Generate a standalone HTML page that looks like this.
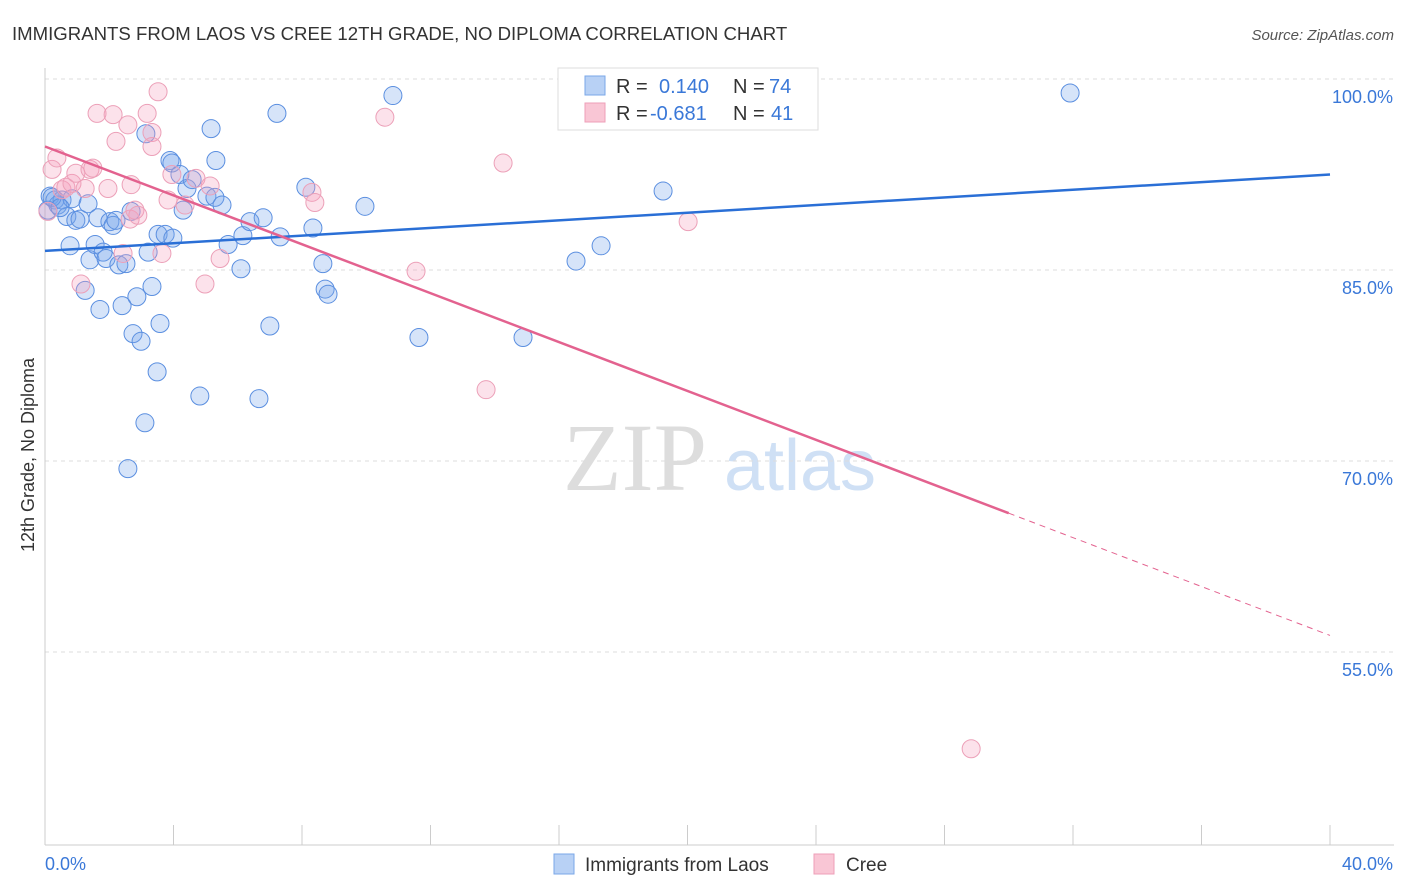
<!DOCTYPE html>
<html><head><meta charset="utf-8"><style>
body{margin:0;background:#fff;font-family:"Liberation Sans",sans-serif;}
svg{display:block}
</style></head><body>
<svg id="chart" width="1406" height="892" xmlns="http://www.w3.org/2000/svg">
<text x="12" y="40" font-size="18.6" fill="#333">IMMIGRANTS FROM LAOS VS CREE 12TH GRADE, NO DIPLOMA CORRELATION CHART</text>
<text x="1394" y="40" font-size="15" fill="#555" font-style="italic" text-anchor="end">Source: ZipAtlas.com</text>
<text transform="translate(34,455) rotate(-90)" font-size="18" fill="#333" text-anchor="middle">12th Grade, No Diploma</text>
<g>
<text x="635" y="490" font-size="96" font-family="Liberation Serif,serif" fill="#ddd" text-anchor="middle">ZIP</text>
<text x="800" y="490" font-size="72" fill="#cfe0f5" text-anchor="middle">atlas</text>
</g>
<g id="grid"></g><g id="axes"></g><g id="marks"></g>
<g>
<rect x="558" y="68" width="260" height="62" fill="#fff" stroke="#ddd"/>
<rect x="585" y="76" width="20" height="19" fill="#b8d1f5" stroke="#7aa7e8"/>
<rect x="585" y="103" width="20" height="19" fill="#f9c6d5" stroke="#ee9fb8"/>
<text x="616" y="93" font-size="20" fill="#333">R =</text><text x="659" y="93" font-size="20" fill="#3a78d8">0.140</text>
<text x="733" y="93" font-size="20" fill="#333">N =</text><text x="769" y="93" font-size="20" fill="#3a78d8">74</text>
<text x="616" y="120" font-size="20" fill="#333">R =</text><text x="650" y="120" font-size="20" fill="#3a78d8">-0.681</text>
<text x="733" y="120" font-size="20" fill="#333">N =</text><text x="771" y="120" font-size="20" fill="#3a78d8">41</text>
</g>
<g>
<rect x="554" y="854" width="20" height="20" fill="#b8d1f5" stroke="#7aa7e8"/>
<text x="585" y="871" font-size="19" fill="#333">Immigrants from Laos</text>
<rect x="814" y="854" width="20" height="20" fill="#f9c6d5" stroke="#ee9fb8"/>
<text x="846" y="871" font-size="19" fill="#333">Cree</text>
</g>
</svg>
<script>
const blueX=[0.16,0.31,0.40,0.53,0.68,0.78,0.84,0.96,1.09,1.25,1.34,1.40,1.56,1.65,1.71,1.81,1.90,2.02,2.12,2.21,2.30,2.40,2.52,2.58,2.68,2.74,2.86,2.99,3.11,3.14,3.21,3.33,3.49,3.52,3.58,3.74,3.89,3.95,3.98,4.20,4.30,4.42,4.58,4.82,5.04,5.17,5.32,5.29,5.51,5.70,6.10,6.16,6.38,6.66,6.79,7.00,7.22,7.32,8.12,8.34,8.65,8.72,8.81,9.96,10.83,11.64,14.88,16.53,17.31,19.24,31.91,0.09,0.22,0.47];
const blueY=[90.8,90.5,90.1,90.5,89.2,86.9,90.6,88.9,89.0,83.4,90.2,85.8,87.0,89.1,81.9,86.4,85.9,88.8,88.5,88.9,85.4,82.2,85.5,69.4,89.6,80.0,82.9,79.4,73.0,95.7,86.4,83.7,77.0,87.8,80.8,87.8,93.6,93.4,87.5,92.5,89.7,91.4,92.1,75.1,90.8,96.1,93.6,90.7,90.1,87.0,85.1,87.7,88.8,74.9,89.1,80.6,97.3,87.6,91.5,88.3,85.5,83.5,83.1,90.0,98.7,79.7,79.7,85.7,86.9,91.2,98.9,89.7,90.7,89.9];
const pinkX=[0.09,0.22,0.37,0.53,0.65,0.84,0.96,1.12,1.25,1.40,1.49,1.62,1.96,2.12,2.21,2.43,2.58,2.65,2.68,2.80,2.89,3.18,3.33,3.33,3.52,3.64,3.83,3.95,4.36,4.70,4.98,5.14,5.45,8.31,8.40,10.58,11.55,13.73,14.26,20.02,28.83];
const pinkY=[89.6,92.9,93.8,91.3,91.5,91.8,92.6,83.9,91.4,92.9,93.0,97.3,91.4,97.2,95.1,86.3,96.4,89.0,91.7,89.7,89.3,97.3,95.8,94.7,99.0,86.3,90.5,92.5,90.1,92.2,83.9,91.6,85.9,91.1,90.3,97.0,84.9,75.6,93.4,88.8,47.4];
const blueTrend=[86.5,92.5];
const pinkTrend=[94.7,56.3];
const pinkSolidEnd=30;
const yTicks=[100,85,70,55];
const yTickLabels=["100.0%","85.0%","70.0%","55.0%"];
const xTicks=[0,4,8,12,16,20,24,28,32,36,40];
const NS="http://www.w3.org/2000/svg";
const X=v=>45+v*1285/40;
const Y=v=>79+(100-v)*12.733;
function mk(t,a,p){const e=document.createElementNS(NS,t);for(const k in a)e.setAttribute(k,a[k]);document.getElementById(p).appendChild(e);return e;}
yTicks.forEach((t,i)=>{
 const l=mk('line',{x1:45,x2:1394,y1:Y(t),y2:Y(t),stroke:'#ddd','stroke-dasharray':'4,4'},'grid');
 
 
 const tx=mk('text',{x:1393,y:Y(t)+24,'font-size':18,fill:'#3a78d8','text-anchor':'end'},'axes');
 tx.textContent=yTickLabels[i];
 
 
});
let a=mk('line',{x1:45,x2:45,y1:68,y2:845,stroke:'#ccc'},'axes');


a=mk('line',{x1:45,x2:1394,y1:845,y2:845,stroke:'#ccc'},'axes');


xTicks.forEach(t=>{
 const l=mk('line',{x1:X(t),x2:X(t),y1:825,y2:845,stroke:'#ccc'},'axes');
 
 
});
let t0=mk('text',{x:45,y:870,'font-size':18,fill:'#3a78d8'},'axes');t0.textContent='0.0%';


let t1=mk('text',{x:1393,y:870,'font-size':18,fill:'#3a78d8','text-anchor':'end'},'axes');t1.textContent='40.0%';


blueX.forEach((x,i)=>{
 const c=mk('circle',{cx:X(x),cy:Y(blueY[i]),r:9,fill:'rgba(120,165,235,0.3)',stroke:'#5b8fe0','stroke-width':1},'marks');
 
 
});
pinkX.forEach((x,i)=>{
 const c=mk('circle',{cx:X(x),cy:Y(pinkY[i]),r:9,fill:'rgba(245,160,190,0.3)',stroke:'#eca0b8','stroke-width':1},'marks');
 
 
});
let b=mk('line',{x1:X(0),y1:Y(blueTrend[0]),x2:X(40),y2:Y(blueTrend[1]),stroke:'#2a6fd6','stroke-width':2.5},'marks');


const py=x=>pinkTrend[0]+(pinkTrend[1]-pinkTrend[0])*x/40;
let p=mk('line',{x1:X(0),y1:Y(py(0)),x2:X(pinkSolidEnd),y2:Y(py(pinkSolidEnd)),stroke:'#e3628f','stroke-width':2.5},'marks');


let pd=mk('line',{x1:X(pinkSolidEnd),y1:Y(py(pinkSolidEnd)),x2:X(40),y2:Y(py(40)),stroke:'#e3628f','stroke-width':1,'stroke-dasharray':'6,5'},'marks');


</script>
</body></html>
